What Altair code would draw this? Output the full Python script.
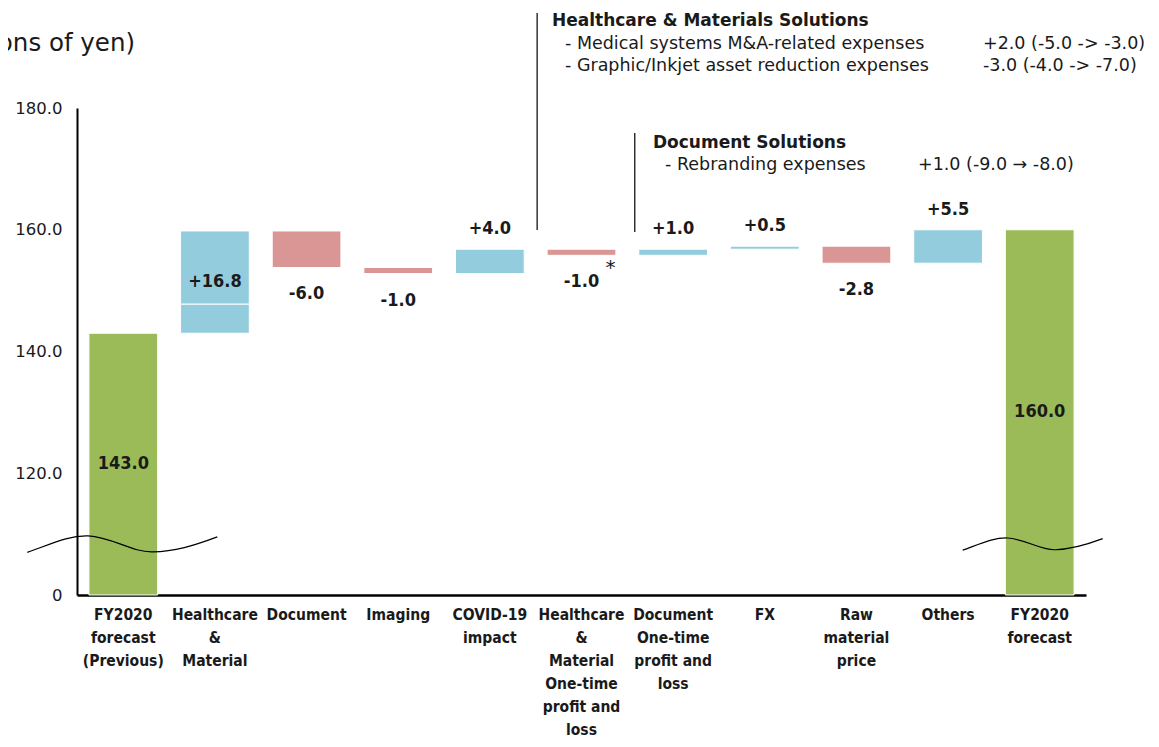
import altair as alt
import pandas as pd

# ---------------- data ----------------
categories = [
    "FY2020\nforecast\n(Previous)",
    "Healthcare\n&\nMaterial",
    "Document",
    "Imaging",
    "COVID-19\nimpact",
    "Healthcare\n&\nMaterial\nOne-time\nprofit and\nloss",
    "Document\nOne-time\nprofit and\nloss",
    "FX",
    "Raw\nmaterial\nprice",
    "Others",
    "FY2020\nforecast",
]
values = [143.0, 16.8, -6.0, -1.0, 4.0, -1.0, 1.0, 0.5, -2.8, 5.5, 160.0]
kinds = ["total", "delta", "delta", "delta", "delta", "delta",
         "delta", "delta", "delta", "delta", "total"]
axis_floor = 100.0          # broken axis: this level is shown as "0"
hc_split = 147.8            # visible split line inside the Healthcare bar
break_level = 108.4         # level of the axis-break wave marks

rows = []
running = 0.0
for c, v, k in zip(categories, values, kinds):
    if k == "total":
        start, end = axis_floor, v
        running = v
        label = f"{v:.1f}"
        group = "total"
    else:
        start, end = running, round(running + v, 2)
        running = end
        label = f"{v:+.1f}"
        group = "pos" if v > 0 else "neg"
    if k == "total" or abs(v) > 10:
        pos = "mid"
    elif v > 0:
        pos = "above"
    else:
        pos = "below"
    rows.append(dict(cat=c, start=start, end=end, lo=min(start, end),
                     hi=max(start, end), mid=(start + end) / 2,
                     label=label, group=group, pos=pos))
df = pd.DataFrame(rows)

# segments (Healthcare bar is drawn in two pieces, split at hc_split)
seg_rows = []
for r in rows:
    if r["cat"] == categories[1]:
        seg_rows.append(dict(cat=r["cat"], lo=r["lo"], hi=hc_split, group=r["group"]))
        seg_rows.append(dict(cat=r["cat"], lo=hc_split, hi=r["hi"], group=r["group"]))
    else:
        seg_rows.append(dict(cat=r["cat"], lo=r["lo"], hi=r["hi"], group=r["group"]))
seg = pd.DataFrame(seg_rows)

FONT_C = "DejaVu Sans Condensed, DejaVu Sans"
FONT = "DejaVu Sans"
TXT = "#1a1a1a"

xscale = alt.Scale(domain=categories, paddingInner=0.25, paddingOuter=0.13)
yscale = alt.Scale(domain=[100, 180], nice=False, zero=False)
colors = alt.Scale(domain=["total", "pos", "neg"],
                   range=["#9BBB59", "#93CDDD", "#D99694"])

x_enc = alt.X("cat:N", scale=xscale, sort=categories, title=None,
              axis=alt.Axis(labelAngle=0, labelExpr="split(datum.label, '\\n')",
                            labelFontWeight="bold", labelFontSize=15.5,
                            labelLineHeight=23, labelPadding=12,
                            labelBaseline="top", labelLimit=0, labelColor=TXT,
                            ticks=False, domainColor="black", domainWidth=2.5,
                            labelFont=FONT_C))

base = alt.Chart(df)

bars = alt.Chart(seg).mark_bar(stroke="white", strokeWidth=1).encode(
    x=x_enc,
    y=alt.Y("lo:Q", scale=yscale, title=None,
            axis=alt.Axis(values=[100, 120, 140, 160, 180],
                          labelExpr="datum.value == 100 ? '0' : format(datum.value, '.1f')",
                          ticks=False, grid=False, domainColor="black",
                          domainWidth=2, labelFontSize=16.5, labelPadding=15,
                          labelColor=TXT, labelFont=FONT)),
    y2="hi:Q",
    color=alt.Color("group:N", scale=colors, legend=None),
)

lab_style = dict(fontWeight="bold", fontSize=18, color=TXT, font=FONT_C)
lab_mid = base.transform_filter("datum.pos == 'mid'").mark_text(**lab_style).encode(
    x=alt.X("cat:N", sort=categories), y="mid:Q", text="label:N")
lab_above = base.transform_filter("datum.pos == 'above'").mark_text(dy=-20, **lab_style).encode(
    x=alt.X("cat:N", sort=categories), y="hi:Q", text="label:N")
lab_below = base.transform_filter("datum.pos == 'below'").mark_text(dy=27, **lab_style).encode(
    x=alt.X("cat:N", sort=categories), y="lo:Q", text="label:N")
asterisk = base.transform_filter(alt.datum.cat == categories[5]).mark_text(
    text="*", dx=29, dy=13, fontSize=20, color=TXT, font=FONT).encode(
    x=alt.X("cat:N", sort=categories), y="lo:Q")

# axis-break wave marks
wave = ("M -1 0.09 C -0.7 -0.02 -0.55 -0.09 -0.36 -0.084 "
        "C -0.1 -0.07 0.1 0.09 0.32 0.084 C 0.55 0.08 0.75 0.02 1 -0.074")
brk_df = pd.DataFrame({"cat": [categories[0], categories[-1]],
                       "lvl": [break_level, break_level]})
brk1 = alt.Chart(brk_df).transform_filter(alt.datum.cat == categories[0]).mark_point(
    shape=wave, size=36100, filled=False, color="black", strokeWidth=1.2,
    opacity=1, xOffset=-1).encode(x=alt.X("cat:N", sort=categories), y="lvl:Q")
brk2 = alt.Chart(brk_df).transform_filter(alt.datum.cat == categories[-1]).mark_point(
    shape=wave, size=19600, filled=False, color="black", strokeWidth=1.2,
    opacity=1, xOffset=-7).encode(x=alt.X("cat:N", sort=categories), y="lvl:Q")

# leader lines for the notes
lead1 = base.transform_filter(alt.datum.cat == categories[5]).mark_rule(
    color="black", strokeWidth=1.2, xOffset=-10).encode(
    x=alt.X("cat:N", sort=categories, bandPosition=0),
    y=alt.value(-95), y2=alt.value(122))
lead2 = base.transform_filter(alt.datum.cat == categories[6]).mark_rule(
    color="black", strokeWidth=1.2, xOffset=-4).encode(
    x=alt.X("cat:N", sort=categories, bandPosition=0),
    y=alt.value(25), y2=alt.value(124))

def note(text, x, y, bold=False, size=17.5, align="left"):
    return alt.Chart(df.head(1)).mark_text(
        text=text, align=align, baseline="middle", fontSize=size,
        fontWeight="bold" if bold else "normal", color=TXT, font=FONT
    ).encode(x=alt.value(x), y=alt.value(y))

notes = [
    note("(Billions of yen)", 58, -64, size=24.5, align="right"),
    note("Healthcare & Materials Solutions", 475, -87, bold=True, size=17),
    note("- Medical systems M&A-related expenses", 488, -64),
    note("+2.0 (-5.0 -> -3.0)", 906, -64),
    note("- Graphic/Inkjet  asset reduction expenses", 488, -42),
    note("-3.0 (-4.0 -> -7.0)", 906, -42),
    note("Document Solutions", 576, 35, bold=True, size=17),
    note("- Rebranding expenses", 588, 57),
    note("+1.0 (-9.0 \u2192 -8.0)", 841, 57),
]

chart = alt.layer(bars, lab_mid, lab_above, lab_below, asterisk, brk1, brk2,
                  lead1, lead2, *notes).properties(
    width=1009, height=487,
    autosize=alt.AutoSizeParams(type="none"),
    padding={"left": 69, "top": 100, "right": 65, "bottom": 144},
).configure(font=FONT).configure_view(strokeWidth=0, stroke="transparent")

chart.save("out.html", embed_options={"renderer": "svg", "actions": False})
